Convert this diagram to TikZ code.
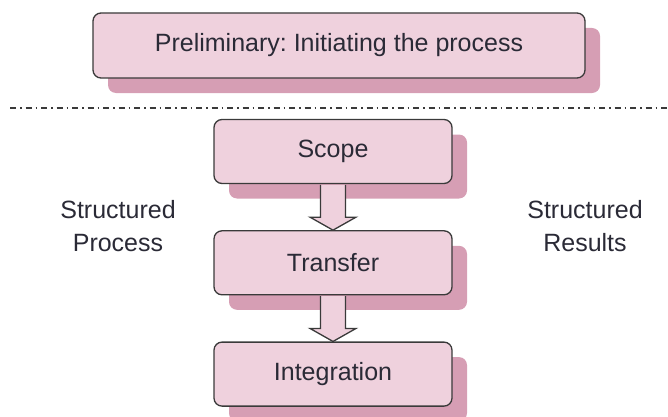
\documentclass[tikz,border=0pt]{standalone}
\usepackage{fontspec}
\setmainfont{Liberation Sans}
\usetikzlibrary{positioning,calc,shadows}
\frenchspacing

\definecolor{boxpink}{HTML}{EFD1DD}
\definecolor{shadowpink}{HTML}{D69EB4}
\definecolor{edgegray}{HTML}{3A3A3A}
\definecolor{textgray}{HTML}{2A2A36}

\tikzset{
  stagebox/.style={draw=edgegray, line width=1.3pt, fill=boxpink, rounded corners=8pt,
    minimum width=238pt, minimum height=64pt, text=textgray,
    font=\fontsize{25}{30}\selectfont,
    drop shadow={shadow xshift=15pt, shadow yshift=-15pt, fill=shadowpink, opacity=1}},
  sidelabel/.style={align=center, text=textgray, font=\fontsize{25}{33}\selectfont},
  blockarrow/.style={draw=edgegray, line width=1.3pt, fill=boxpink, line join=miter}
}

\begin{document}
\begin{tikzpicture}[x=1pt, y=1pt, node distance=46pt]
\useasboundingbox (0,0) rectangle (668,416);

% Preliminary stage above the separator
\node[stagebox, minimum width=492pt, minimum height=65pt] (prelim) at (339,370.5) {Preliminary: Initiating the process};

% separator line
\draw[edgegray, line width=2pt, dash pattern=on 6pt off 4pt on 1.5pt off 4pt] (10,308) coordinate (sepl) -- (668,308) coordinate (sepr);

% the three structured steps
\node[stagebox] (scope) at (333,264.5) {Scope};
\node[stagebox, below=of scope] (transfer) {Transfer};
\node[stagebox, below=of transfer] (integration) {Integration};

% hollow arrows between the steps
\draw[blockarrow] ($(scope.south)+(-12.5,-0.7)$) -- ($(transfer.north)+(-12.5,13)$)
  -- ($(transfer.north)+(-23,13)$) -- (transfer.north) -- ($(transfer.north)+(23,13)$)
  -- ($(transfer.north)+(12.5,13)$) -- ($(scope.south)+(12.5,-0.7)$);
\draw[blockarrow] ($(transfer.south)+(-12.5,-0.7)$) -- ($(integration.north)+(-12.5,13)$)
  -- ($(integration.north)+(-23,13)$) -- (integration.north) -- ($(integration.north)+(23,13)$)
  -- ($(integration.north)+(12.5,13)$) -- ($(transfer.south)+(12.5,-0.7)$);

% side labels
\node[sidelabel] (process) at (118,190) {Structured\\Process};
\node[sidelabel] (results) at (585,190) {Structured\\Results};
\end{tikzpicture}
\end{document}
